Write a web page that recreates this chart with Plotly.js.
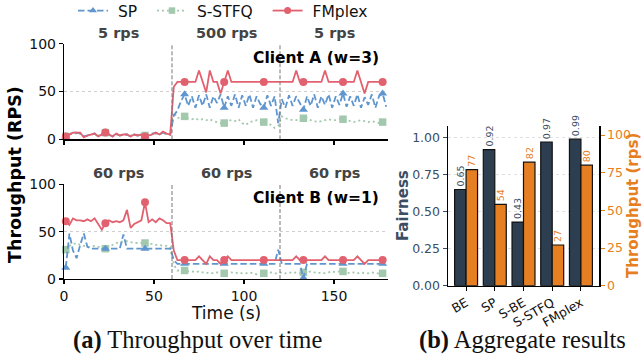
<!DOCTYPE html>
<html><head><meta charset="utf-8">
<script src="https://cdn.plot.ly/plotly-3.0.1.min.js"></script>
<style>html,body{margin:0;padding:0;background:#fff;} #chart{width:642px;height:358px;}</style>
</head><body><div id="chart"></div>
<script>
// ---------- data ----------
const timeS = [1,3,5,7,9,11,13,15,17,19,21,23,25,27,29,31,33,35,37,39,41,43,45,47,49,51,53,55,57,59,
  61,63,65,67,69,71,73,75,77,79,81,83,85,87,89,91,93,95,97,99,101,103,105,107,109,111,113,115,117,119,
  121,123,125,127,129,131,133,135,137,139,141,143,145,147,149,151,153,155,157,159,161,163,165,167,169,171,173,175,177,179];

// Client A (w=3)
const clientA_SP = [3,5,7,7,6,3,4,5,6,3,5,7,5,3,6,4,5,5,3,5,4,5,3,5,6,7,5,7,6,5,
  25,30,40,47,35,45,33,46,35,47,33,45,38,47,33,45,35,47,33,46,35,47,33,45,37,33,46,35,45,17,
  42,33,46,35,45,38,31,45,35,47,33,45,36,47,33,45,36,48,34,45,35,47,33,44,36,47,33,45,48,34];
const clientA_SSTFQ = [3,5,7,6,6,3,4,5,6,4,5,7,5,3,5,4,5,5,4,5,4,5,4,4,5,6,5,6,5,5,
  28,22,23,24,22,21,22,20,21,20,21,19,18,17,17,19,20,19,21,17,15,18,19,20,18,18,17,15,12,14,
  24,22,21,20,20,21,22,22,20,19,18,19,20,21,20,20,21,21,20,19,18,19,20,19,18,19,18,17,18,18];
const clientA_FMplex = [3,5,7,7,7,2,4,5,6,3,5,7,5,3,6,4,5,5,3,5,4,5,3,4,5,7,5,8,6,5,
  55,60,60,60,60,60,60,72,60,49,72,60,60,48,60,72,60,60,60,60,60,60,60,60,60,60,60,60,60,60,
  60,60,60,60,72,60,60,60,60,60,60,60,72,60,60,60,60,60,60,60,60,72,60,48,60,60,60,60,60,60];

// Client B (w=1)
const clientB_SP = [12,48,30,22,36,48,34,32,32,32,32,32,32,32,32,32,47,32,32,32,32,32,32,32,32,32,32,32,32,32,
  20,16,16,16,16,16,16,16,16,16,16,16,16,16,16,16,16,16,16,16,16,16,16,16,16,16,16,16,16,31,
  16,16,16,16,16,16,1,16,16,16,16,16,16,16,16,16,16,16,16,16,16,16,16,16,16,16,16,16,16,16];
const clientB_SSTFQ = [31,35,37,38,36,35,34,34,35,34,33,32,34,36,38,39,40,40,39,38,38,38,38,37,37,36,36,35,35,34,
  15,9,9,9,8,8,7,8,7,6,7,6,7,6,6,6,7,6,7,6,6,7,6,5,6,6,6,7,6,6,
  7,6,7,6,7,6,7,7,8,7,6,7,6,7,8,7,8,8,7,6,7,6,7,6,6,7,6,6,6,6];
const clientB_FMplex = [61,57,64,62,62,61,63,61,64,58,52,59,62,60,61,60,62,73,54,58,60,62,81,60,63,60,64,62,59,59,
  30,20,20,20,20,20,20,24,20,16,24,20,20,16,20,24,20,20,20,20,20,20,20,20,20,20,20,20,20,20,
  20,20,20,20,24,20,20,20,20,20,20,20,24,20,20,20,20,20,20,20,20,24,20,16,20,20,20,20,20,20];

const phaseBounds = [60, 120];
const phaseCenters = [30, 90, 150];
const phaseLabelsA = ['5 rps', '500 rps', '5 rps'];
const phaseLabelsB = ['60 rps', '60 rps', '60 rps'];

// Aggregate results
const methods = ['BE', 'SP', 'S-BE', 'S-STFQ', 'FMplex'];
const fairness = [0.65, 0.92, 0.43, 0.97, 0.99];
const throughputAgg = [77, 54, 82, 27, 80];

// ---------- styles ----------
const FONT = 'DejaVu Sans';
const SERIF = 'Liberation Serif';
const C_SP = '#6096cf', C_SS = '#a2c8ad', C_FM = '#e2616f';
const NAVY = '#2c3e50', ORANGE = '#e67e22', SLATE = '#3b4d63';
const styles = {
  SP: {color: C_SP, dash: '6.5px,3px', symbol: 'triangle-up', size: 8},
  'S-STFQ': {color: C_SS, dash: '2px,3px', symbol: 'square', size: 7.5},
  FMplex: {color: C_FM, dash: 'solid', symbol: 'circle', size: 8}
};
const MARK_EVERY = 11;
const NB = '\u00a0';

function seriesTraces(y, name, xa, ya) {
  const s = styles[name];
  const mx = timeS.filter((_, i) => i % MARK_EVERY === 0);
  const my = y.filter((_, i) => i % MARK_EVERY === 0);
  return [
    {x: timeS, y: y, xaxis: xa, yaxis: ya, mode: 'lines', showlegend: false, hoverinfo: 'skip',
     line: {color: s.color, width: 1.8, dash: s.dash}},
    {x: mx, y: my, xaxis: xa, yaxis: ya, mode: 'markers', showlegend: false, hoverinfo: 'skip',
     marker: {color: s.color, size: s.size, symbol: s.symbol}, cliponaxis: false}
  ];
}
function legendTrace(name) {
  const s = styles[name];
  return {x: [null], y: [null], xaxis: 'x', yaxis: 'y', mode: 'lines+markers', name: NB + name + NB + NB,
    line: {color: s.color, width: 1.8, dash: s.dash}, marker: {color: s.color, size: s.size - 1, symbol: s.symbol}};
}

const data = [
  ...seriesTraces(clientA_SSTFQ, 'S-STFQ', 'x', 'y'),
  ...seriesTraces(clientA_SP, 'SP', 'x', 'y'),
  ...seriesTraces(clientA_FMplex, 'FMplex', 'x', 'y'),
  ...seriesTraces(clientB_SSTFQ, 'S-STFQ', 'x2', 'y2'),
  ...seriesTraces(clientB_SP, 'SP', 'x2', 'y2'),
  ...seriesTraces(clientB_FMplex, 'FMplex', 'x2', 'y2'),
  legendTrace('SP'), legendTrace('S-STFQ'), legendTrace('FMplex'),
  {type: 'bar', x: methods, y: fairness, xaxis: 'x3', yaxis: 'y3', width: 0.4, offset: -0.4,
   marker: {color: NAVY, line: {color: '#111', width: 1.2}}, showlegend: false,
   text: fairness.map(v => v.toFixed(2)), textposition: 'outside', textangle: -90, constraintext: 'none',
   cliponaxis: false, textfont: {family: FONT, size: 9.5, color: SLATE}},
  {type: 'bar', x: methods, y: throughputAgg, xaxis: 'x3', yaxis: 'y4', width: 0.4, offset: 0,
   marker: {color: ORANGE, line: {color: '#111', width: 1.2}}, showlegend: false,
   text: throughputAgg.map(v => String(v)), textposition: 'outside', textangle: -90, constraintext: 'none',
   cliponaxis: false, textfont: {family: FONT, size: 9.5, color: ORANGE}}
];

const W = 642, H = 358;
const px = v => v / W, py = v => 1 - v / H;

const timeAxisBase = {range: [0, 180], tickvals: [0, 50, 100, 150], ticks: 'outside', ticklen: 4, tickwidth: 1.1,
  tickcolor: '#000', showline: true, linecolor: '#000', linewidth: 1.2, showgrid: false, zeroline: false,
  tickfont: {family: FONT, size: 14, color: '#111'}};
const rpsAxisBase = {range: [0, 100], tickvals: [0, 50, 100], ticks: 'outside', ticklen: 4, tickwidth: 1.1,
  tickcolor: '#000', showline: true, linecolor: '#000', linewidth: 1.2, showgrid: true, gridcolor: '#cfcfcf',
  griddash: 'dot', gridwidth: 1, zeroline: false, tickfont: {family: FONT, size: 14, color: '#111'}};

const annotations = [];
phaseCenters.forEach((c, i) => {
  annotations.push({xref: 'x', yref: 'paper', x: c, y: py(33), text: '<b>' + phaseLabelsA[i] + '</b>', showarrow: false,
    font: {family: FONT, size: 14.5, color: '#444'}, xanchor: 'center', yanchor: 'middle'});
  annotations.push({xref: 'x2', yref: 'paper', x: c, y: py(173), text: '<b>' + phaseLabelsB[i] + '</b>', showarrow: false,
    font: {family: FONT, size: 14.5, color: '#444'}, xanchor: 'center', yanchor: 'middle'});
});
annotations.push(
  {xref: 'paper', yref: 'paper', x: px(381), y: py(58), text: '<b>Client A (w=3)</b>', showarrow: false,
   xanchor: 'right', yanchor: 'middle', font: {family: FONT, size: 15.5, color: '#000'}},
  {xref: 'paper', yref: 'paper', x: px(381), y: py(198), text: '<b>Client B (w=1)</b>', showarrow: false,
   xanchor: 'right', yanchor: 'middle', font: {family: FONT, size: 15.5, color: '#000'}},
  {xref: 'paper', yref: 'paper', x: px(15), y: py(175), text: '<b>Throughput (RPS)</b>', showarrow: false,
   textangle: -90, xanchor: 'center', yanchor: 'middle', font: {family: FONT, size: 17.5, color: '#000'}},
  {xref: 'paper', yref: 'paper', x: px(226), y: py(313), text: 'Time (s)', showarrow: false,
   xanchor: 'center', yanchor: 'middle', font: {family: FONT, size: 17, color: '#111'}},
  {xref: 'paper', yref: 'paper', x: px(197), y: py(340), text: '<b>(a)</b> Throughput over time', showarrow: false,
   xanchor: 'center', yanchor: 'middle', font: {family: SERIF, size: 24.5, color: '#111'}},
  {xref: 'paper', yref: 'paper', x: px(522), y: py(340), text: '<b>(b)</b> Aggregate results', showarrow: false,
   xanchor: 'center', yanchor: 'middle', font: {family: SERIF, size: 24.5, color: '#111'}},
  {xref: 'paper', yref: 'paper', x: px(403), y: py(206), text: '<b>Fairness</b>', showarrow: false,
   textangle: -90, xanchor: 'center', yanchor: 'middle', font: {family: FONT, size: 15, color: SLATE}},
  {xref: 'paper', yref: 'paper', x: px(633), y: py(206), text: '<b>Throughput (rps)</b>', showarrow: false,
   textangle: -90, xanchor: 'center', yanchor: 'middle', font: {family: FONT, size: 15, color: ORANGE}}
);

const shapes = [];
['x', 'x2'].forEach((xa, k) => {
  const ya = k === 0 ? 'y' : 'y2';
  phaseBounds.forEach(b => shapes.push({type: 'line', xref: xa, yref: ya + ' domain', x0: b, x1: b, y0: 0, y1: 1,
    line: {color: '#777', width: 1, dash: '4px,2px'}}));
});

const layout = {
  width: W, height: H, margin: {l: 0, r: 0, t: 0, b: 0, autoexpand: false}, paper_bgcolor: '#fff', plot_bgcolor: 'rgba(0,0,0,0)',
  font: {family: FONT, color: '#111'}, showlegend: true, barmode: 'overlay',
  legend: {orientation: 'h', x: px(73), xanchor: 'left', y: py(11), yanchor: 'middle', font: {family: FONT, size: 15.5, color: '#111'},
    itemwidth: 30, bgcolor: 'rgba(0,0,0,0)'},
  xaxis: Object.assign({}, timeAxisBase, {domain: [px(64), px(388)], anchor: 'y', showticklabels: false}),
  yaxis: Object.assign({}, rpsAxisBase, {domain: [py(139.3), py(43.7)], anchor: 'x'}),
  xaxis2: Object.assign({}, timeAxisBase, {domain: [px(64), px(388)], anchor: 'y2'}),
  yaxis2: Object.assign({}, rpsAxisBase, {domain: [py(279), py(184.3)], anchor: 'x2'}),
  xaxis3: {domain: [px(447.7), px(599.3)], anchor: 'y3', type: 'category', range: [-0.64, 4.64], tickangle: -30,
    ticks: 'outside', ticklen: 4, tickcolor: '#000', showline: true, linecolor: '#000', linewidth: 1.2, showgrid: false,
    tickfont: {family: FONT, size: 12.5, color: '#111'}},
  yaxis3: {domain: [py(285.7), py(126)], anchor: 'x3', range: [0, 1.079], tickvals: [0, 0.25, 0.5, 0.75, 1],
    tickformat: '.2f', ticks: 'outside', ticklen: 4, tickcolor: SLATE, showline: true, linecolor: '#000', linewidth: 1.2,
    showgrid: true, gridcolor: '#e0e0e0', griddash: 'dot', zeroline: false, tickfont: {family: FONT, size: 12.5, color: SLATE}},
  yaxis4: {overlaying: 'y3', side: 'right', anchor: 'x3', range: [0, 106], tickvals: [0, 25, 50, 75, 100],
    ticks: 'outside', ticklen: 4, tickcolor: ORANGE, showline: true, linecolor: '#000', linewidth: 1.2,
    showgrid: false, zeroline: false, tickfont: {family: FONT, size: 12.5, color: ORANGE}},
  annotations: annotations, shapes: shapes
};

Plotly.newPlot('chart', data, layout, {staticPlot: true, displayModeBar: false});
</script></body></html>
